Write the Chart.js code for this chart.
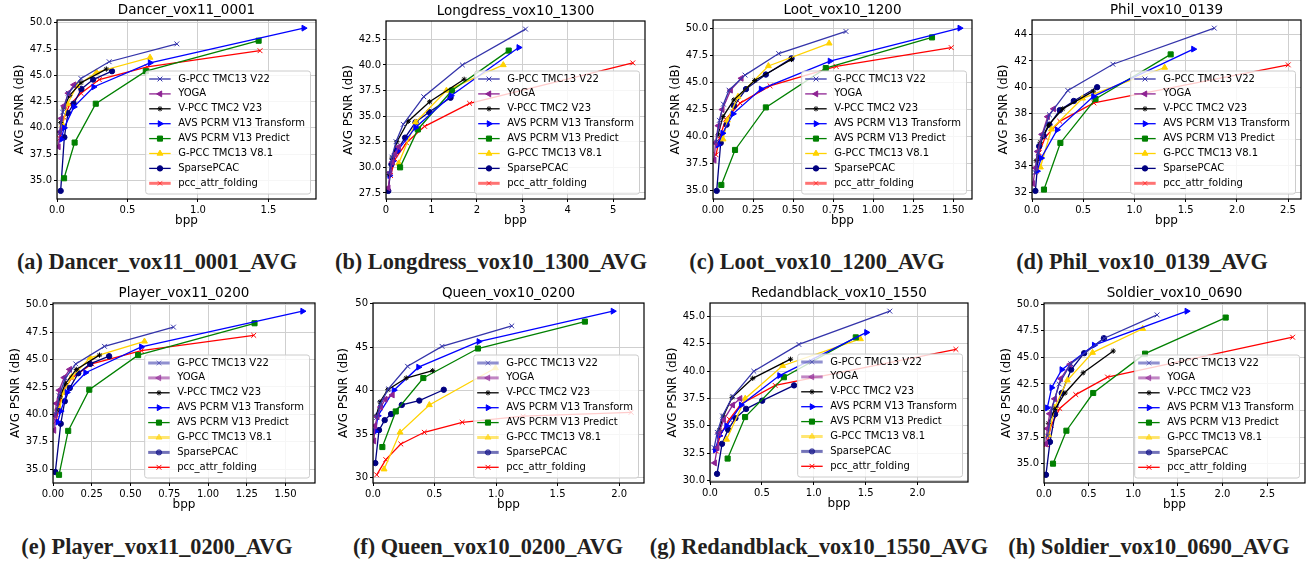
<!DOCTYPE html>
<html><head><meta charset="utf-8">
<script src="https://cdn.jsdelivr.net/npm/chart.js@4.4.1/dist/chart.umd.min.js"></script>
<style>
html,body{margin:0;padding:0;background:#fff;}
body{width:1312px;height:562px;position:relative;overflow:hidden;}
canvas{position:absolute;}
.cap{position:absolute;width:400px;text-align:center;font-family:"Liberation Serif",serif;font-weight:bold;font-size:22.3px;line-height:22.3px;color:#231f20;white-space:nowrap;}
</style></head><body>
<script>
// ---------------- DATA ----------------
const seriesNames = ['G-PCC TMC13 V22','YOGA','V-PCC TMC2 V23','AVS PCRM V13 Transform','AVS PCRM V13 Predict','G-PCC TMC13 V8.1','SparsePCAC','pcc_attr_folding'];
const panelTitles = ['Dancer_vox11_0001','Longdress_vox10_1300','Loot_vox10_1200','Phil_vox10_0139','Player_vox11_0200','Queen_vox10_0200','Redandblack_vox10_1550','Soldier_vox10_0690'];
const captions = ['(a) Dancer_vox11_0001_AVG','(b) Longdress_vox10_1300_AVG','(c) Loot_vox10_1200_AVG','(d) Phil_vox10_0139_AVG','(e) Player_vox11_0200_AVG','(f) Queen_vox10_0200_AVG','(g) Redandblack_vox10_1550_AVG','(h) Soldier_vox10_0690_AVG'];
const xAxisLabel = 'bpp';
const yAxisLabel = 'AVG PSNR (dB)';
const xTickStep = [0.5, 1, 0.25, 0.5, 0.25, 0.5, 0.5, 0.5];
const xTickDecimals = [1, 0, 2, 1, 2, 1, 1, 1];
const yTickStep = [2.5, 2.5, 2.5, 2, 2.5, 5, 2.5, 2.5];
const yTickDecimals = [1, 1, 1, 0, 1, 0, 1, 1];

// series order = seriesNames
const dancer_bpp = [
  [0.02,0.04,0.08,0.17,0.37,0.85],
  [0.01,0.02,0.03,0.05,0.08,0.12],
  [0.026,0.047,0.09,0.17,0.35],
  [0.03,0.05,0.12,0.26,0.66,1.75],
  [0.05,0.125,0.275,0.63,1.43],
  [0.04,0.075,0.14,0.28,0.66],
  [0.026,0.052,0.078,0.118,0.173,0.256,0.39],
  [0.02,0.05,0.09,0.17,0.30,0.64,1.44]];
const dancer_psnr = [
  [39.5,41.5,43.3,44.7,46.3,48.0],
  [38.2,39.6,40.9,42.1,43.3,44.1],
  [40.5,41.9,43.1,44.3,45.6],
  [38.9,40.0,42.0,43.9,46.2,49.5],
  [35.2,38.6,42.3,45.4,48.3],
  [40.3,42.3,44.0,45.3,46.7],
  [34.0,39.1,41.4,42.3,43.7,44.6,45.4],
  [39.0,41.0,42.2,43.3,44.6,45.8,47.35]];

const longdress_bpp = [
  [0.07,0.13,0.22,0.38,0.83,1.68,3.07],
  [0.05,0.09,0.14,0.2,0.28],
  [0.07,0.13,0.24,0.49,0.96,1.72],
  [0.08,0.15,0.25,0.65,1.43,2.92],
  [0.31,0.7,1.45,2.7],
  [0.28,0.65,1.33,2.58],
  [0.05,0.12,0.24,0.42,0.65,0.95,1.42],
  [0.1,0.2,0.45,0.85,1.84,5.43]];
const longdress_psnr = [
  [29.4,31.0,32.5,34.2,36.9,40.0,43.5],
  [28.0,29.5,30.5,31.3,32.0],
  [29.3,30.9,32.5,34.5,36.4,38.6],
  [29.2,30.6,31.6,33.9,37.0,41.7],
  [30.0,33.7,37.5,41.4],
  [30.4,34.4,37.5,40.0],
  [27.7,30.3,31.6,32.9,34.4,35.4,36.8],
  [29.2,30.8,32.4,34.0,36.25,40.2]];

const loot_bpp = [
  [0.02,0.04,0.065,0.1,0.2,0.41,0.83],
  [0.008,0.015,0.033,0.058,0.11,0.177],
  [0.031,0.0625,0.13,0.26,0.49],
  [0.03,0.06,0.125,0.30,0.73,1.54],
  [0.052,0.1375,0.33,0.704,1.367],
  [0.0625,0.09,0.156,0.346,0.725],
  [0.023,0.048,0.085,0.131,0.206,0.33,0.49],
  [0.019,0.04,0.079,0.169,0.356,0.769,1.487]];
const loot_psnr = [
  [39.5,41.5,43.0,44.3,45.7,47.7,49.75],
  [37.8,39.4,41.0,42.5,44.3,45.4],
  [40.15,41.85,43.4,45.2,47.15],
  [39.2,40.3,42.1,44.4,47.0,50.06],
  [35.5,38.75,42.7,46.35,49.2],
  [39.75,41.5,43.7,46.55,48.65],
  [34.95,39.4,41.1,42.85,44.4,45.75,47.25],
  [38.3,39.8,41.6,43.1,44.7,46.5,48.25]];

const phil_bpp = [
  [0.03,0.06,0.1,0.17,0.35,0.79,1.78],
  [0.01,0.033,0.055,0.098,0.153,0.212],
  [0.04,0.08,0.16,0.3,0.6],
  [0.05,0.09,0.245,0.6,1.576],
  [0.117,0.277,0.62,1.354],
  [0.082,0.19,0.493,1.295],
  [0.033,0.07,0.114,0.17,0.271,0.408,0.636],
  [0.042,0.07,0.13,0.271,0.604,2.502]];
const phil_psnr = [
  [33.5,35.0,36.3,37.9,39.75,41.75,44.5],
  [32.65,33.85,35.1,36.4,37.75,38.35],
  [34.4,35.8,37.1,38.35,39.7],
  [33.6,34.6,36.75,39.3,42.9],
  [32.2,35.75,39.1,42.5],
  [33.9,36.8,39.15,41.5],
  [32.1,35.5,36.3,37.15,38.25,38.95,40.0],
  [33.6,35.0,36.2,37.4,38.8,41.7]];

const player_bpp = [
  [0.02,0.04,0.08,0.147,0.332,0.777],
  [0.0065,0.012,0.022,0.04,0.072,0.108],
  [0.025,0.045,0.08,0.15,0.3],
  [0.03,0.05,0.09,0.21,0.57,1.61],
  [0.039,0.098,0.234,0.549,1.30],
  [0.043,0.065,0.12,0.239,0.59],
  [0.015,0.05,0.076,0.108,0.163,0.24,0.362],
  [0.02,0.06,0.12,0.25,0.57,1.295]];
const player_psnr = [
  [40.0,41.7,43.3,44.6,46.2,47.95],
  [38.55,39.9,41.0,42.2,43.35,44.1],
  [40.4,41.6,42.8,44.1,45.4],
  [39.3,40.3,42.0,43.8,46.15,49.4],
  [34.5,38.5,42.25,45.4,48.3],
  [40.5,42.0,43.4,45.15,46.65],
  [34.75,39.15,41.2,42.4,43.75,44.6,45.3],
  [39.4,42.0,43.3,44.6,45.8,47.2]];

const queen_bpp = [
  [0.03,0.06,0.125,0.281,0.561,1.128],
  [0.008,0.016,0.035,0.063,0.1,0.158],
  [0.027,0.057,0.12,0.27,0.485],
  [0.02,0.04,0.17,0.37,0.86,1.95],
  [0.076,0.185,0.409,0.853,1.722],
  [0.09,0.22,0.458,0.995],
  [0.019,0.049,0.095,0.147,0.234,0.376,0.575],
  [0.03,0.104,0.226,0.417,0.725,1.22,2.098]];
const queen_psnr = [
  [36.9,38.5,40.2,42.8,45.1,47.45],
  [34.2,35.95,37.0,38.1,39.0,39.5],
  [37.1,38.7,40.1,41.45,42.3],
  [35.3,37.1,40.05,42.7,45.65,49.15],
  [33.5,37.6,41.45,44.85,47.95],
  [30.95,35.2,38.35,42.6],
  [31.65,35.45,36.6,37.3,38.35,38.85,40.1],
  [30.3,32.05,33.85,35.2,36.35,37.05,37.5]];

const redandblack_bpp = [
  [0.04,0.07,0.12,0.219,0.422,0.857,1.733],
  [0.045,0.07,0.085,0.132,0.219,0.29],
  [0.09,0.129,0.213,0.412,0.776],
  [0.05,0.09,0.16,0.3,0.67,1.508],
  [0.17,0.338,0.712,1.405],
  [0.16,0.34,0.70,1.45],
  [0.068,0.116,0.174,0.245,0.348,0.503,0.81],
  [0.06,0.1,0.187,0.3,0.628,2.37]];
const redandblack_psnr = [
  [33.0,34.4,35.9,37.7,40.0,42.45,45.5],
  [31.6,33.0,34.35,35.55,36.9,37.5],
  [34.6,35.9,37.6,39.35,41.1],
  [32.8,34.1,35.0,36.9,39.6,43.55],
  [32.0,35.8,39.45,43.1],
  [33.75,37.5,40.5,42.95],
  [30.6,33.35,34.65,35.7,36.55,37.3,38.7],
  [32.7,34.2,35.6,37.0,38.7,42.0]];

const soldier_bpp = [
  [0.04,0.09,0.17,0.3,0.675,1.267],
  [0.019,0.037,0.064,0.12,0.187,0.292],
  [0.049,0.12,0.236,0.439,0.776],
  [0.037,0.086,0.199,0.562,1.60],
  [0.101,0.251,0.551,1.132,2.036],
  [0.05,0.12,0.262,0.544,1.106],
  [0.022,0.067,0.124,0.199,0.304,0.45,0.671],
  [0.03,0.08,0.176,0.356,0.712,2.786]];
const soldier_psnr = [
  [37.6,40.2,42.5,44.4,46.8,49.0],
  [36.85,38.3,39.7,41.1,43.0,44.35],
  [38.8,40.1,41.65,43.55,45.6],
  [40.25,42.15,43.85,46.15,49.35],
  [35.0,38.1,41.65,45.35,48.75],
  [37.7,40.3,42.85,45.45,47.7],
  [33.95,37.05,39.65,41.65,43.85,45.4,46.8],
  [36.8,38.6,40.2,41.5,43.15,46.9]];

const panelBpp = [dancer_bpp, longdress_bpp, loot_bpp, phil_bpp, player_bpp, queen_bpp, redandblack_bpp, soldier_bpp];
const panelPsnr = [dancer_psnr, longdress_psnr, loot_psnr, phil_psnr, player_psnr, queen_psnr, redandblack_psnr, soldier_psnr];

// ---------------- STYLE / LAYOUT ----------------
const seriesStyle = [
  {color:'#3434aa', point:'crossRot', rot:0,   r:3.4},
  {color:'#8e2393', point:'triangle', rot:-90, r:3.4},
  {color:'#000000', point:'star',     rot:0,   r:2.6},
  {color:'#0000ff', point:'triangle', rot:90,  r:3.4},
  {color:'#008000', point:'rect',     rot:0,   r:3.6},
  {color:'#ffd200', point:'triangle', rot:0,   r:3.4},
  {color:'#000080', point:'circle',   rot:0,   r:2.7},
  {color:'#ff0000', point:'crossRot', rot:0,   r:3.4}
];
// plot-area rectangles on the page: left, top, right, bottom; gap from axis to y-title centre
const plotBox = [
  {L:57,  T:20,  R:316,  B:199, g:37.5},
  {L:386, T:21,  R:645,  B:199, g:37.5},
  {L:713, T:20,  R:972,  B:199, g:37.5},
  {L:1032,T:20,  R:1301, B:199, g:28.5},
  {L:53,  T:303, R:315,  B:483, g:37},
  {L:373, T:303, R:644,  B:483, g:29},
  {L:710, T:303, R:968,  B:482, g:37.5},
  {L:1044,T:303, R:1305, B:483, g:37}
];
const captionCenterX = [157, 491, 817, 1142, 157, 488, 819, 1149];
const colX = [0, 328, 656, 984];
const rowY = [0, 280];
const rowCapTop = [251, 536];
const CW = 328, CH = 240;

Chart.defaults.font.family = '"DejaVu Sans", sans-serif';
Chart.defaults.color = '#000';

function drawMarker(ctx, st, x, y) {
  if (Chart.helpers && Chart.helpers.drawPoint) {
    Chart.helpers.drawPoint(ctx, {pointStyle: st.point, rotation: st.rot, radius: st.r, borderWidth: 1}, x, y);
  } else {
    ctx.beginPath(); ctx.arc(x, y, st.r, 0, Math.PI*2); ctx.fill();
  }
}

const mplPlugin = {
  id: 'mpl',
  afterDatasetsDraw(chart, args, opts) {
    const {ctx, chartArea: a} = chart;
    ctx.save();
    // frame
    ctx.strokeStyle = '#000'; ctx.lineWidth = 1.2;
    ctx.strokeRect(a.left, a.top, a.right - a.left, a.bottom - a.top);
    // legend
    ctx.font = '10px "DejaVu Sans"';
    const ds = chart.data.datasets;
    const tw = Math.max(...ds.map(d => ctx.measureText(d.label).width));
    const rowH = 14.9;
    const W = 33 + tw + 5, H = 8 + rowH * (ds.length - 1) + 10.7;
    const x0 = a.right - 5.5 - W, y0 = a.bottom - 5 - H;
    ctx.beginPath();
    if (ctx.roundRect) ctx.roundRect(x0, y0, W, H, 2.5); else ctx.rect(x0, y0, W, H);
    ctx.fillStyle = 'rgba(255,255,255,0.8)'; ctx.fill();
    ctx.strokeStyle = '#cccccc'; ctx.lineWidth = 1; ctx.stroke();
    ds.forEach((d, i) => {
      const st = seriesStyle[i];
      const cy = y0 + 8 + rowH * i;
      const hl = opts.highlight.includes(i);
      ctx.save();
      ctx.globalAlpha = hl ? 0.55 : 1;
      ctx.strokeStyle = st.color; ctx.fillStyle = st.color;
      ctx.lineWidth = hl ? 3 : 1.3;
      ctx.beginPath(); ctx.moveTo(x0 + 3.5, cy); ctx.lineTo(x0 + 25, cy); ctx.stroke();
      ctx.lineWidth = 1;
      drawMarker(ctx, st, x0 + 14.3, cy);
      ctx.restore();
      ctx.fillStyle = '#000'; ctx.textBaseline = 'middle'; ctx.textAlign = 'left';
      ctx.fillText(d.label, x0 + 32.5, cy);
    });
    ctx.restore();
  }
};

for (let p = 0; p < 8; p++) {
  const col = p % 4, row = Math.floor(p / 4);
  const cx = colX[col], cy = rowY[row];
  const box = plotBox[p];
  const cv = document.createElement('canvas');
  cv.width = CW; cv.height = CH;
  cv.style.left = cx + 'px'; cv.style.top = cy + 'px';
  cv.style.width = CW + 'px'; cv.style.height = CH + 'px';
  document.body.appendChild(cv);

  const bpp = panelBpp[p], psnr = panelPsnr[p];
  const allX = bpp.flat(), allY = psnr.flat();
  const xMinD = Math.min(...allX), xMaxD = Math.max(...allX);
  const yMinD = Math.min(...allY), yMaxD = Math.max(...allY);
  const xMax = xMaxD + 0.05 * (xMaxD - xMinD);
  const yMin = yMinD - 0.05 * (yMaxD - yMinD);
  const yMax = yMaxD + 0.05 * (yMaxD - yMinD);

  const datasets = seriesNames.map((name, s) => {
    const st = seriesStyle[s];
    return {
      label: name,
      data: bpp[s].map((x, k) => ({x: x, y: psnr[s][k]})),
      showLine: true,
      borderColor: st.color,
      backgroundColor: st.color,
      borderWidth: 1.3,
      pointStyle: st.point,
      pointRotation: st.rot,
      pointRadius: st.r,
      pointHoverRadius: st.r,
      pointBorderWidth: 1,
      pointBorderColor: st.color,
      pointBackgroundColor: st.color,
      tension: 0
    };
  });

  const mkTicks = (step) => (scale) => {
    const t = [];
    let v = Math.ceil((scale.min - 1e-9) / step) * step;
    for (; v <= scale.max + 1e-9; v += step) t.push({value: +v.toFixed(6)});
    scale.ticks = t;
  };
  const titleLH = 13.5 * 1.2;
  const axLH = 12 * 1.2;

  new Chart(cv, {
    type: 'scatter',
    data: {datasets},
    plugins: [mplPlugin],
    options: {
      responsive: false,
      animation: false,
      devicePixelRatio: 1,
      layout: {padding: {left: 0, right: cx + CW - box.R, top: box.T - 17.6 - cy, bottom: cy + CH - box.B - 30}},
      plugins: {
        legend: {display: false},
        tooltip: {enabled: false},
        title: {display: true, text: panelTitles[p], fullSize: false, color: '#000',
                font: {size: 13.5, weight: 'normal', lineHeight: 1.2}, padding: {top: 0, bottom: 17.6 - titleLH}},
        mpl: {highlight: row === 0 ? [7] : [0, 1, 5, 6]}
      },
      scales: {
        x: {
          type: 'linear', position: 'bottom', min: 0, max: xMax,
          afterBuildTicks: mkTicks(xTickStep[p]),
          afterFit: (s) => { s.height = 30; s.paddingLeft = 0; s.paddingRight = 0; },
          grid: {color: '#cfcfcf', lineWidth: 1, drawTicks: true, tickLength: 3, tickColor: '#000', tickWidth: 1},
          border: {display: false},
          ticks: {font: {size: 10}, color: '#000', padding: 2, maxRotation: 0, autoSkip: false,
                  callback: (v) => Number(v).toFixed(xTickDecimals[p])},
          title: {display: true, text: xAxisLabel, color: '#000', font: {size: 12, lineHeight: 1.2},
                  padding: {top: 0, bottom: 30 - 22 - axLH / 2}}
        },
        y: {
          type: 'linear', position: 'left', min: yMin, max: yMax,
          afterBuildTicks: mkTicks(yTickStep[p]),
          afterFit: (s) => { s.width = box.L - cx; s.paddingTop = 0; s.paddingBottom = 0; },
          grid: {color: '#cfcfcf', lineWidth: 1, drawTicks: true, tickLength: 3, tickColor: '#000', tickWidth: 1},
          border: {display: false},
          ticks: {font: {size: 10}, color: '#000', padding: 2, autoSkip: false,
                  callback: (v) => Number(v).toFixed(yTickDecimals[p])},
          title: {display: true, text: yAxisLabel, color: '#000', font: {size: 12, lineHeight: 1.2},
                  padding: {top: (box.L - box.g) - cx - axLH / 2, bottom: 0}}
        }
      }
    }
  });

  const cap = document.createElement('div');
  cap.className = 'cap';
  cap.textContent = captions[p];
  cap.style.left = (captionCenterX[p] - 200) + 'px';
  cap.style.top = rowCapTop[row] + 'px';
  document.body.appendChild(cap);
}
</script>
</body></html>
